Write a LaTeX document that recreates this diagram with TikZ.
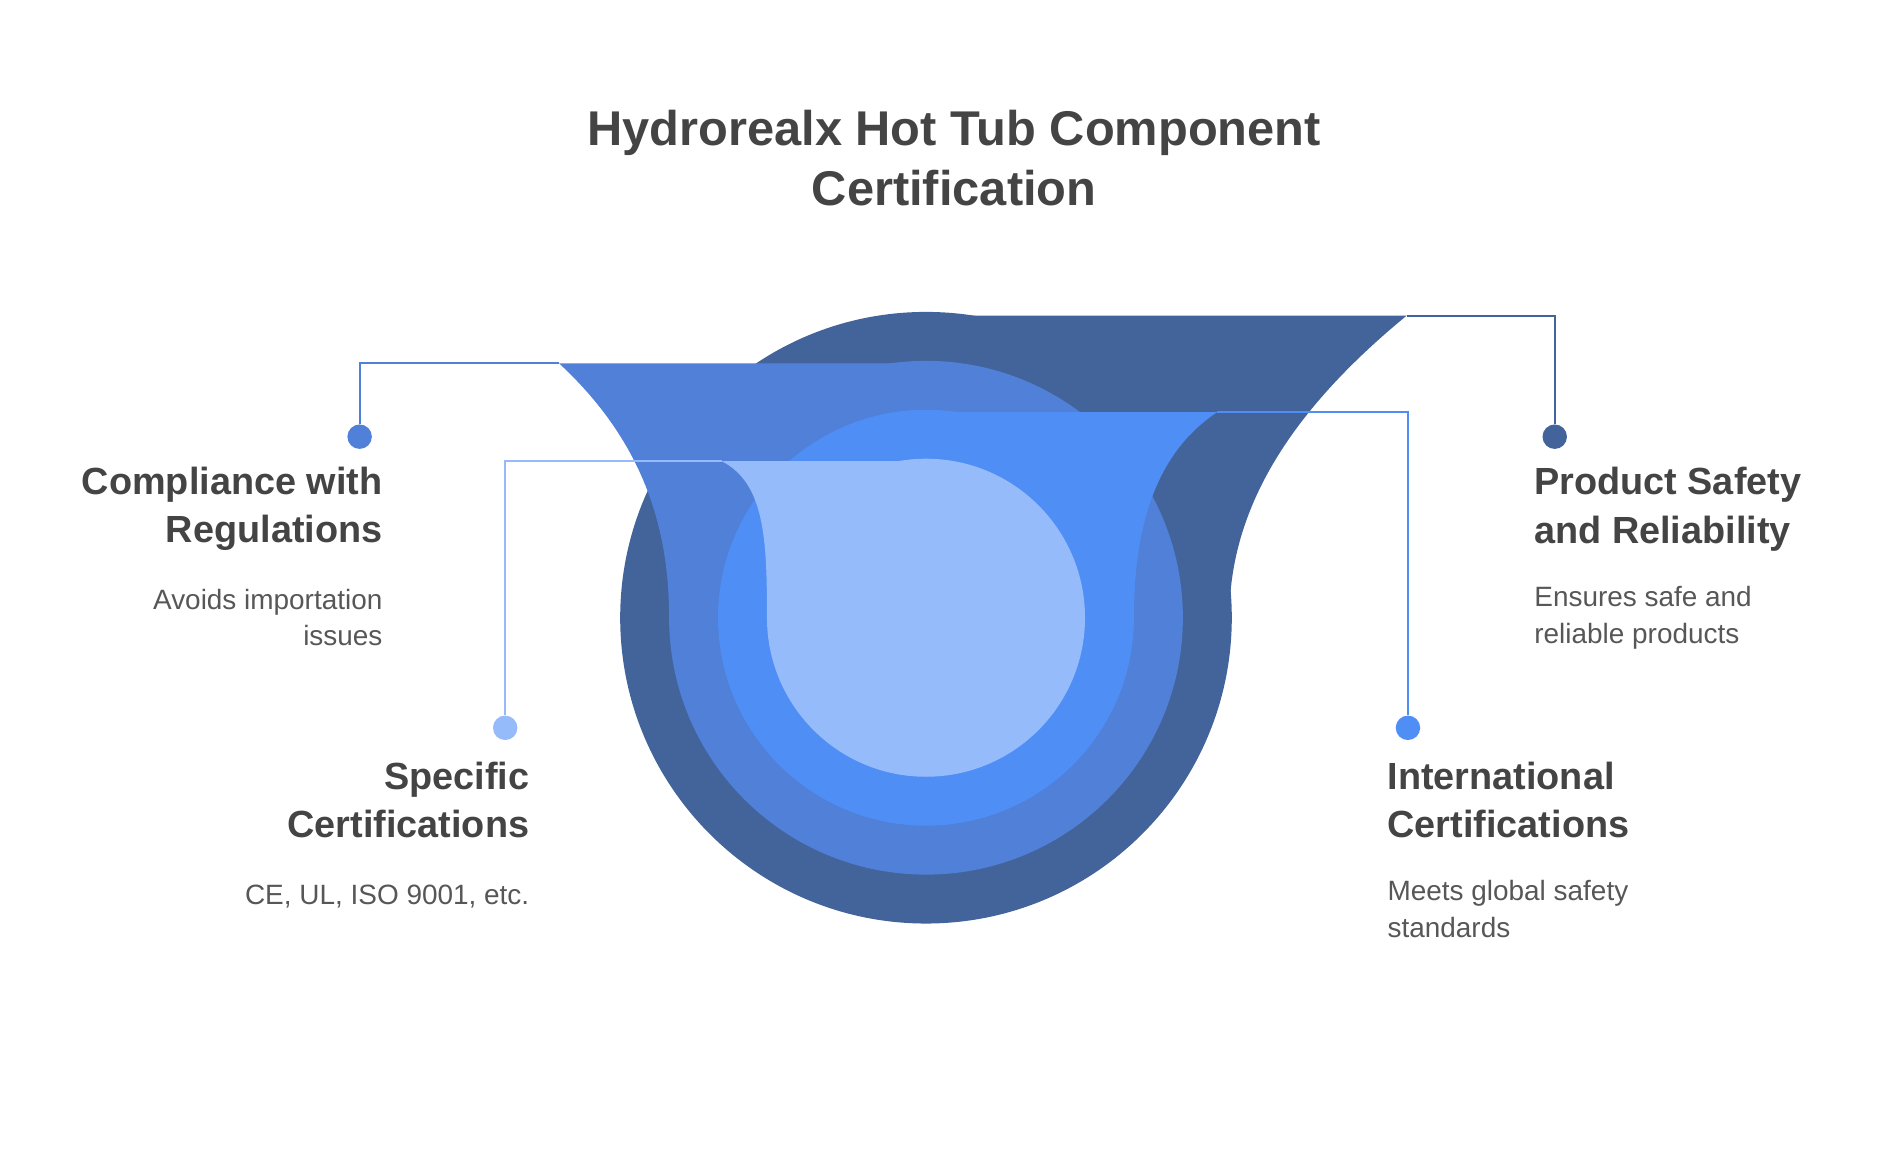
\documentclass[tikz,border=0pt]{standalone}
\usepackage{fontspec}
\setmainfont{Liberation Sans}
\definecolor{tubdark}{HTML}{42649A}
\definecolor{tubmid}{HTML}{5080D8}
\definecolor{tubbright}{HTML}{4F8EF5}
\definecolor{tublight}{HTML}{96BBFA}
\definecolor{txtgray}{HTML}{444444}
\tikzset{
  head/.style={font=\fontsize{17.6}{22.7}\selectfont\bfseries, text=txtgray, inner sep=0pt},
  desc/.style={font=\fontsize{13}{17}\selectfont, text=txtgray!90, inner sep=0pt},
  dot/.style={circle, fill=#1, minimum size=0.4cm, inner sep=0pt},
  lead/.style={#1, line width=0.9pt}
}
\begin{document}
\begin{tikzpicture}[x=0.02cm, y=-0.02cm]
\useasboundingbox (0,0) rectangle (1550,942);

% title
\node (title) [font=\fontsize{22.7}{27.8}\selectfont\bfseries, text=txtgray, align=center]
   at (780,129) {Hydrorealx Hot Tub Component\\Certification};

% layers, outside in
\fill[tubdark] (757,505) circle (250);
\fill[tubdark] (757,258) -- (1150,258) .. controls (1050,340) and (1005,420) .. (1005,505) -- (757,505) -- cycle;
\fill[tubmid] (757,505) circle (210);
\fill[tubmid] (757,297) -- (457,297) .. controls (525,360) and (547,430) .. (547,505) -- (757,505) -- cycle;
\fill[tubbright] (757,505) circle (170);
\fill[tubbright] (757,337) -- (995,337) .. controls (945,370) and (927,430) .. (927,505) -- (757,505) -- cycle;
\fill[tublight] (757,505) circle (130);
\fill[tublight] (757,377) -- (590,377) .. controls (625,395) and (627,440) .. (627,505) -- (757,505) -- cycle;

% dots and leaders
\node (dsafe) [dot=tubdark] at (1271,357) {};
\node (dcomp) [dot=tubmid] at (294,357) {};
\node (dintl) [dot=tubbright] at (1151,595) {};
\node (dspec) [dot=tublight] at (413,595) {};
\coordinate (csafe) at (1150,258);
\coordinate (ccomp) at (457,297);
\coordinate (cintl) at (995,337);
\coordinate (cspec) at (590,377);
\draw[lead=tubdark] (csafe) -| (dsafe);
\draw[lead=tubmid] (ccomp) -| (dcomp);
\draw[lead=tubbright] (cintl) -| (dintl);
\draw[lead=tublight] (cspec) -| (dspec);

% labels
\node (hcomp) [head, anchor=east, align=right] at (313,416) {Compliance with\\Regulations};
\node (tcomp) [desc, anchor=east, align=right] at (313,505) {Avoids importation\\issues};
\node (hspec) [head, anchor=east, align=right] at (433,654) {Specific\\Certifications};
\node (tspec) [desc, anchor=east, align=right] at (433,733) {CE, UL, ISO 9001, etc.};
\node (hsafe) [head, anchor=west, align=left] at (1254,416) {Product Safety\\and Reliability};
\node (tsafe) [desc, anchor=west, align=left] at (1254,505) {Ensures safe and\\reliable products};
\node (hintl) [head, anchor=west, align=left] at (1134,654) {International\\Certifications};
\node (tintl) [desc, anchor=west, align=left] at (1134,743) {Meets global safety\\standards};
\end{tikzpicture}
\end{document}
